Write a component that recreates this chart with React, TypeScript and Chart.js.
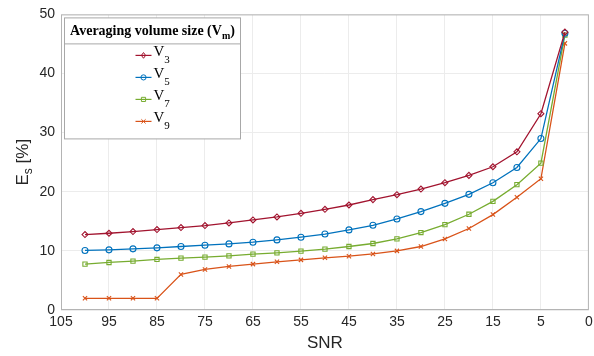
import React, { useEffect, useRef } from "react";
import { Chart, registerables } from "chart.js";

Chart.register(...registerables);

const snr = [100, 95, 90, 85, 80, 75, 70, 65, 60, 55, 50, 45, 40, 35, 30, 25, 20, 15, 10, 5, 0];
const v3 = [12.76, 12.98, 13.27, 13.6, 13.94, 14.28, 14.72, 15.23, 15.74, 16.36, 17.03, 17.76, 18.67, 19.51, 20.46, 21.53, 22.77, 24.23, 26.76, 33.2, 47.0];
const v5 = [10.07, 10.17, 10.34, 10.51, 10.74, 10.96, 11.18, 11.47, 11.86, 12.31, 12.85, 13.55, 14.33, 15.4, 16.64, 18.04, 19.56, 21.53, 24.11, 29.0, 46.8];
const v7 = [7.76, 8.04, 8.26, 8.55, 8.77, 8.94, 9.16, 9.44, 9.66, 9.95, 10.29, 10.74, 11.25, 12.02, 13.1, 14.45, 16.19, 18.38, 21.2, 24.84, 46.5];
const v9 = [1.97, 1.97, 1.97, 1.97, 6.02, 6.86, 7.37, 7.76, 8.15, 8.48, 8.82, 9.1, 9.49, 10.0, 10.74, 12.02, 13.78, 16.14, 19.06, 22.2, 45.1];

const seriesNames = ["3", "5", "7", "9"];
const seriesColors = ["#A2142F", "#0072BD", "#77AC30", "#D95319"];
const seriesMarkers = ["rectRot", "circle", "rect", "crossRot"];
const seriesValues = [v3, v5, v7, v9];

// tick labels from left to right along the (reversed) x axis
const xTickLabels = ["105", "95", "85", "75", "65", "55", "45", "35", "25", "15", "5", "0"];
const legendTitle = "Averaging volume size (V";
const legendTitleSub = "m";
const yTitleMain = "E";
const yTitleSub = "s";
const yTitleRest = " [%]";
const xTitle = "SNR";

const TEXT = "#262626";

function drawMarker(ctx: CanvasRenderingContext2D, style: string, x: number, y: number, r: number, color: string) {
  ctx.save();
  ctx.strokeStyle = color;
  ctx.lineWidth = 1;
  ctx.beginPath();
  if (style === "circle") {
    ctx.arc(x, y, r, 0, Math.PI * 2);
  } else if (style === "rect") {
    ctx.rect(x - r * 0.8, y - r * 0.8, r * 1.6, r * 1.6);
  } else if (style === "rectRot") {
    ctx.moveTo(x, y - r * 1.1);
    ctx.lineTo(x + r * 0.8, y);
    ctx.lineTo(x, y + r * 1.1);
    ctx.lineTo(x - r * 0.8, y);
    ctx.closePath();
  } else {
    ctx.moveTo(x - r * 0.8, y - r * 0.8);
    ctx.lineTo(x + r * 0.8, y + r * 0.8);
    ctx.moveTo(x + r * 0.8, y - r * 0.8);
    ctx.lineTo(x - r * 0.8, y + r * 0.8);
  }
  ctx.stroke();
  ctx.restore();
}

const decorPlugin = {
  id: "decor",
  afterDraw(chart: any) {
    const { ctx, chartArea } = chart;
    const { left, top, right, bottom } = chartArea;
    ctx.save();
    // frame
    ctx.strokeStyle = "#b4b4b4";
    ctx.lineWidth = 1;
    ctx.strokeRect(left + 0.5, top + 0.5, right - left - 1, bottom - top - 1);

    // legend box
    const bx = left + 3.5;
    const by = top + 3.5;
    const bw = 176;
    const bh = 121;
    ctx.fillStyle = "#ffffff";
    ctx.fillRect(bx, by, bw, bh);
    ctx.strokeStyle = "#a8a8a8";
    ctx.strokeRect(bx, by, bw, bh);
    ctx.beginPath();
    ctx.moveTo(bx, by + 26);
    ctx.lineTo(bx + bw, by + 26);
    ctx.stroke();

    // legend title
    ctx.fillStyle = "#000";
    ctx.textBaseline = "alphabetic";
    const tFont = "bold 14px 'Liberation Serif', 'Times New Roman', serif";
    const sFont = "bold 10px 'Liberation Serif', 'Times New Roman', serif";
    ctx.font = tFont;
    const w1 = ctx.measureText(legendTitle).width;
    const w3 = ctx.measureText(")").width;
    ctx.font = sFont;
    const w2 = ctx.measureText(legendTitleSub).width;
    let tx = bx + bw / 2 - (w1 + w2 + w3) / 2;
    const tyBase = by + 17;
    ctx.font = tFont;
    ctx.fillText(legendTitle, tx, tyBase);
    tx += w1;
    ctx.font = sFont;
    ctx.fillText(legendTitleSub, tx, tyBase + 4);
    tx += w2;
    ctx.font = tFont;
    ctx.fillText(")", tx, tyBase);

    // legend entries
    seriesNames.forEach((name, i) => {
      const ry = by + 37.5 + i * 22;
      const lx0 = bx + 71;
      const lx1 = bx + 87;
      ctx.strokeStyle = seriesColors[i];
      ctx.lineWidth = 1.2;
      ctx.beginPath();
      ctx.moveTo(lx0, ry);
      ctx.lineTo(lx1, ry);
      ctx.stroke();
      drawMarker(ctx, seriesMarkers[i], (lx0 + lx1) / 2, ry, 2.6, seriesColors[i]);
      ctx.fillStyle = "#000";
      ctx.font = "15px 'Liberation Serif', 'Times New Roman', serif";
      ctx.fillText("V", lx1 + 2, ry + 1);
      const vw = ctx.measureText("V").width;
      ctx.font = "11px 'Liberation Serif', 'Times New Roman', serif";
      ctx.fillText(name, lx1 + 2 + vw, ry + 8);
    });

    // y axis title
    ctx.save();
    ctx.translate(23, (top + bottom) / 2);
    ctx.rotate(-Math.PI / 2);
    ctx.fillStyle = TEXT;
    ctx.textBaseline = "middle";
    const mainF = "17px 'Liberation Sans', Arial, sans-serif";
    const subF = "12px 'Liberation Sans', Arial, sans-serif";
    ctx.font = mainF;
    const a = ctx.measureText(yTitleMain).width;
    const c = ctx.measureText(yTitleRest).width;
    ctx.font = subF;
    const b = ctx.measureText(yTitleSub).width;
    let x0 = -(a + b + c) / 2;
    ctx.font = mainF;
    ctx.fillText(yTitleMain, x0, 0);
    x0 += a;
    ctx.font = subF;
    ctx.fillText(yTitleSub, x0, 6);
    x0 += b;
    ctx.font = mainF;
    ctx.fillText(yTitleRest, x0, 0);
    ctx.restore();

    ctx.restore();
  },
};

export default function App() {
  const ref = useRef<HTMLCanvasElement | null>(null);
  useEffect(() => {
    if (!ref.current) return;
    const chart = new Chart(ref.current, {
      type: "line",
      data: {
        datasets: seriesValues.map((vals, i) => ({
          label: "V" + seriesNames[i],
          data: vals.map((v, j) => ({ x: snr[j], y: v })),
          borderColor: seriesColors[i],
          backgroundColor: seriesColors[i],
          borderWidth: 1.3,
          pointStyle: seriesMarkers[i] as any,
          pointRadius: 3,
          pointBorderWidth: 1.1,
          pointBackgroundColor: "rgba(255,255,255,0)",
          pointBorderColor: seriesColors[i],
          tension: 0,
        })),
      },
      options: {
        responsive: false,
        animation: false,
        layout: { padding: { top: 14, right: 0, left: 0, bottom: 0 } },
        plugins: { legend: { display: false }, tooltip: { enabled: false } },
        scales: {
          x: {
            type: "linear",
            min: -5,
            max: 105,
            reverse: true,
            afterFit: (s: any) => {
              s.height = 46;
              s.paddingRight = 4;
            },
            ticks: {
              stepSize: 10,
              autoSkip: false,
              maxRotation: 0,
              padding: 4,
              color: TEXT,
              font: { family: "'Liberation Sans', Arial, sans-serif", size: 14 },
              callback: (_v: any, idx: number) => xTickLabels[idx],
            },
            grid: { color: "#ececec", drawTicks: false },
            border: { display: false },
            title: {
              display: true,
              text: xTitle,
              color: TEXT,
              font: { family: "'Liberation Sans', Arial, sans-serif", size: 17 },
              padding: { top: 0, bottom: 2 },
            },
          },
          y: {
            min: 0,
            max: 50,
            afterFit: (s: any) => {
              s.width = 61;
            },
            ticks: {
              stepSize: 10,
              padding: 6,
              color: TEXT,
              font: { family: "'Liberation Sans', Arial, sans-serif", size: 14 },
            },
            grid: { color: "#ececec", drawTicks: false },
            border: { display: false },
          },
        },
      },
      plugins: [decorPlugin],
    });
    return () => chart.destroy();
  }, []);
  return (
    <div style={{ position: "fixed", left: 0, top: 0, width: 594, height: 356, background: "#fff" }}>
      <canvas ref={ref} width={594} height={356} />
    </div>
  );
}
